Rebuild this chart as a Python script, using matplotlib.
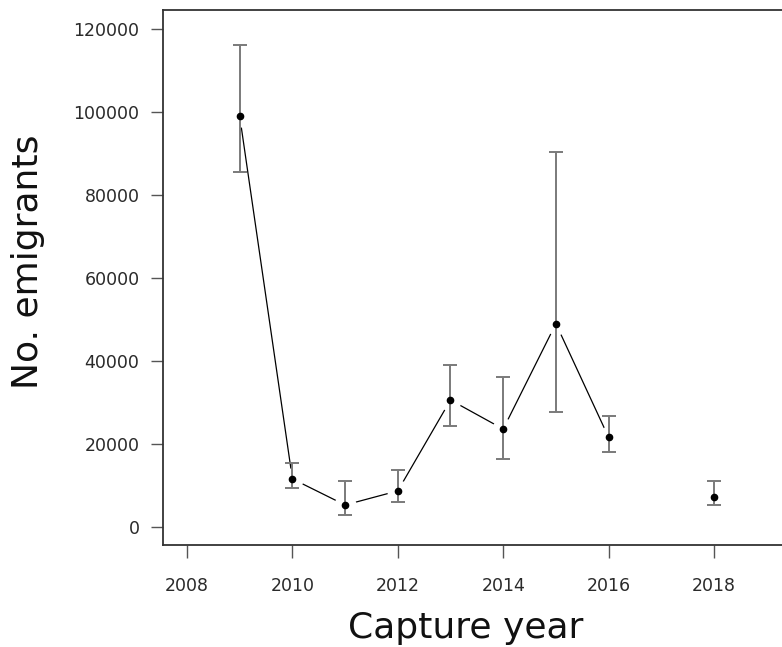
import matplotlib
matplotlib.use("Agg")
from matplotlib import pyplot as plt

# values
years = [2009, 2010, 2011, 2012, 2013, 2014, 2015, 2016, 2018]
emigrants = [99000, 11600, 5300, 8700, 30600, 23600, 49000, 21600, 7150]
upper = [116200, 15500, 11100, 13800, 39000, 36200, 90300, 26700, 11100]
lower = [85500, 9500, 2900, 5950, 24400, 16400, 27800, 18150, 5250]

# the connecting line stops at 2016 (no 2017 value)
line_years = years[:8]
line_vals = emigrants[:8]

fig = plt.figure(figsize=(7.82, 6.47), dpi=100)
ax = fig.add_axes([163 / 782, 1 - 545 / 647, 1 - 163 / 782, (545 - 10) / 647])

# line with gaps round the points, like R type = "b"
ax.plot(line_years, line_vals, color="black", lw=0.9, zorder=1)
ax.plot(years, emigrants, ls="none", marker="o", ms=16,
        mfc="white", mec="none", zorder=2)

yerr = [[v - lo for v, lo in zip(emigrants, lower)],
        [up - v for v, up in zip(emigrants, upper)]]
ax.errorbar(years, emigrants, yerr=yerr, fmt="none", ecolor="#7a7a7a",
            elinewidth=1.4, capsize=5, capthick=1.4, zorder=3)
ax.plot(years, emigrants, ls="none", marker="o", ms=4.5,
        color="black", zorder=4)

ax.set_xlim(2007.545, 2019.29)
ax.set_ylim(-4340, 124580)
ax.set_xticks([2008, 2010, 2012, 2014, 2016, 2018])
ax.set_yticks([0, 20000, 40000, 60000, 80000, 100000, 120000])

for side in ["left", "bottom", "top"]:
    ax.spines[side].set_color("#333333")
    ax.spines[side].set_linewidth(1.3)
ax.spines["right"].set_visible(False)

ax.tick_params(axis="x", direction="out", length=9, width=1,
               color="#555555", pad=14, labelsize=12.5, labelcolor="#2a2a2a")
ax.tick_params(axis="y", direction="out", length=9, width=1,
               color="#555555", pad=8, labelsize=12.5, labelcolor="#2a2a2a")
for lab in ax.get_xticklabels() + ax.get_yticklabels():
    lab.set_fontfamily("DejaVu Sans")

fig.text(466 / 782, 1 - 628 / 647, "Capture year", ha="center", va="center",
         fontsize=26, family="DejaVu Sans", color="#111111")
fig.text(28 / 782, 1 - 262 / 647, "No. emigrants", ha="center", va="center",
         rotation=90, fontsize=26, family="DejaVu Sans", color="#111111")

plt.savefig("out.png", dpi=100)
